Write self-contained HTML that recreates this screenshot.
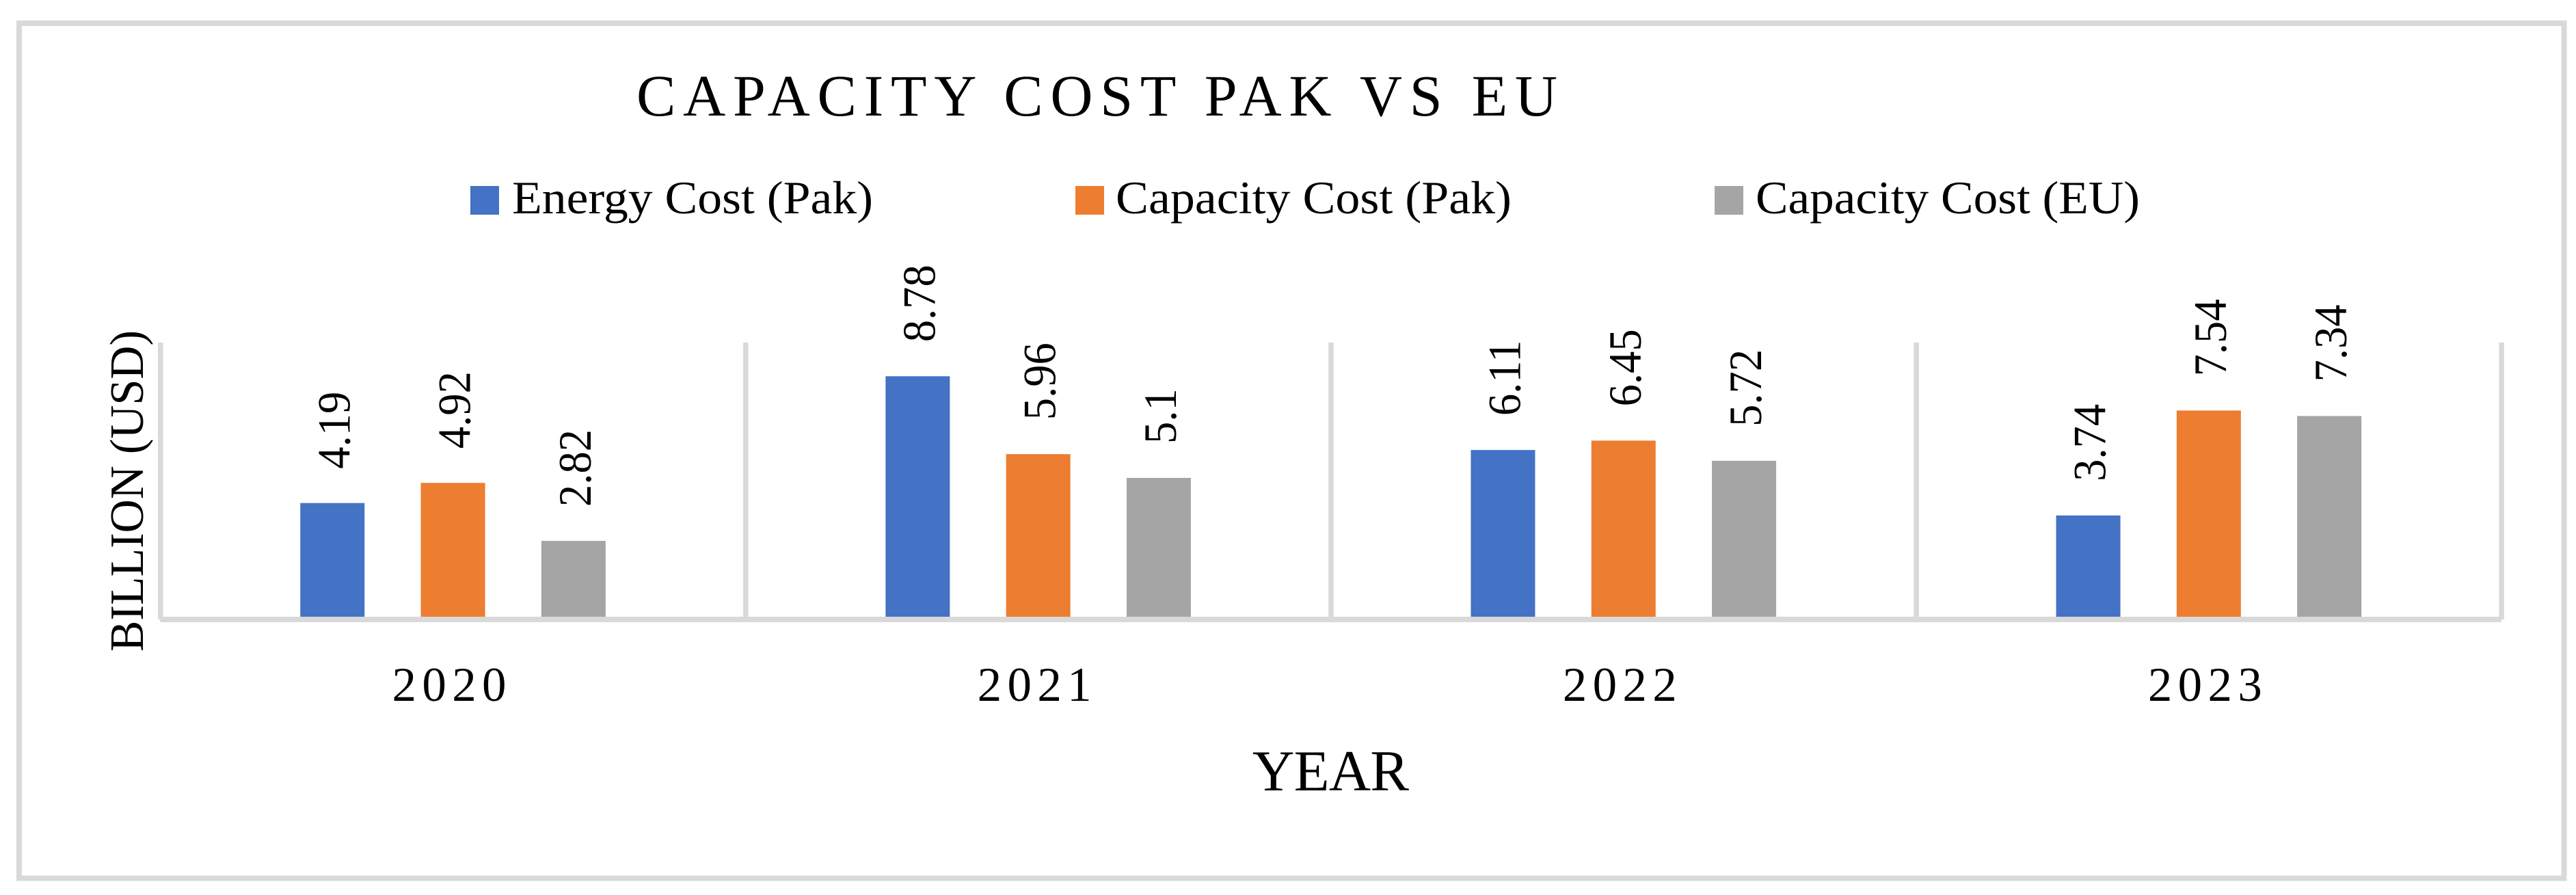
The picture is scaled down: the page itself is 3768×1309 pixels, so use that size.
<!DOCTYPE html>
<html lang="en">
<head>
<meta charset="utf-8">
<title>Capacity Cost Pak vs EU</title>
<style>
  html, body { margin: 0; padding: 0; background: #fff; }
  svg { display: block; }
  text { font-family: "Liberation Serif", serif; fill: #000; }
</style>
</head>
<body>
<svg id="chart" xmlns="http://www.w3.org/2000/svg" width="3768" height="1309" viewBox="0 0 3768 1309">
  <rect x="0" y="0" width="3768" height="1309" fill="#ffffff"/>
  <rect x="28" y="34" width="3722.5" height="1250.5" fill="none" stroke="#d9d9d9" stroke-width="8"/>
  <text x="931" y="169" font-size="86" textLength="1347" lengthAdjust="spacing">CAPACITY COST PAK VS EU</text>

  <g>
    <rect x="688" y="272" width="42" height="42" fill="#4472c4"/>
    <text x="749" y="312" font-size="68" textLength="528" lengthAdjust="spacingAndGlyphs">Energy Cost (Pak)</text>
    <rect x="1573" y="272" width="42" height="42" fill="#ed7d31"/>
    <text x="1632" y="312" font-size="68" textLength="579" lengthAdjust="spacingAndGlyphs">Capacity Cost (Pak)</text>
    <rect x="2508" y="272" width="42" height="42" fill="#a5a5a5"/>
    <text x="2568" y="312" font-size="68" textLength="562" lengthAdjust="spacingAndGlyphs">Capacity Cost (EU)</text>
  </g>

  <g id="grid"></g>
  <g id="bars"></g>
  <rect x="234" y="902" width="3425" height="8" fill="#d9d9d9"/>
  <g id="labels"></g>
  <g id="ticks"></g>

  <text transform="translate(209,953) rotate(-90)" font-size="70" textLength="470" lengthAdjust="spacingAndGlyphs">BILLION (USD)</text>
  <text x="1832" y="1156" font-size="85" textLength="229" lengthAdjust="spacing">YEAR</text>
</svg>
<script>
const categories = ["2020", "2021", "2022", "2023"];
const energyCostPak = [4.19, 8.78, 6.11, 3.74];
const capacityCostPak = [4.92, 5.96, 6.45, 7.54];
const capacityCostEU = [2.82, 5.1, 5.72, 7.34];
const seriesNames = ["energy-cost-pak", "capacity-cost-pak", "capacity-cost-eu"];
const yMax = 10;

const SVG_NS = "http://www.w3.org/2000/svg";
const plotLeft = 234.5, categoryWidth = 856.1, baselineY = 905, plotHeight = 404;
const barWidth = 94, barStep = 176.3;
const seriesValues = [energyCostPak, capacityCostPak, capacityCostEU];
const seriesColors = ["#4472c4", "#ed7d31", "#a5a5a5"];

function xCategory(index) { return plotLeft + (index + 0.5) * categoryWidth; }
function xBarCenter(catIndex, seriesIndex) { return xCategory(catIndex) + (seriesIndex - 1) * barStep; }
function yValue(value) { return baselineY - (value / yMax) * plotHeight; }

const gridGroup = document.getElementById("grid");
const barsGroup = document.getElementById("bars");
const labelsGroup = document.getElementById("labels");
const ticksGroup = document.getElementById("ticks");

for (let i = 0; i <= categories.length; i++) {
  const line = document.createElementNS(SVG_NS, "rect");
  
  
  line.setAttribute("x", plotLeft + i * categoryWidth - 3.5);
  line.setAttribute("y", yValue(yMax));
  line.setAttribute("width", 7.5);
  line.setAttribute("height", 906 - yValue(yMax));
  line.setAttribute("fill", "#d9d9d9");
  gridGroup.appendChild(line);
}

categories.forEach(function (category, c) {
  seriesValues.forEach(function (values, s) {
    const value = values[c];
    const cx = xBarCenter(c, s);
    const top = yValue(value);

    const bar = document.createElementNS(SVG_NS, "rect");
    
    
    bar.setAttribute("x", cx - barWidth / 2);
    bar.setAttribute("y", top);
    bar.setAttribute("width", barWidth);
    bar.setAttribute("height", baselineY - top);
    bar.setAttribute("fill", seriesColors[s]);
    barsGroup.appendChild(bar);

    const label = document.createElementNS(SVG_NS, "text");
    
    
    label.setAttribute("font-size", 68);
    label.setAttribute("transform", "translate(" + (cx + 25) + "," + (top - 50) + ") rotate(-90) scale(0.95,1)");
    label.textContent = String(value);
    labelsGroup.appendChild(label);
  });

  const tick = document.createElementNS(SVG_NS, "text");
  
  
  tick.setAttribute("x", xCategory(c) - 89);
  tick.setAttribute("y", 1025);
  tick.setAttribute("font-size", 71);
  tick.setAttribute("textLength", 167);
  tick.setAttribute("lengthAdjust", "spacing");
  tick.textContent = category;
  ticksGroup.appendChild(tick);
});
</script>
</body>
</html>
